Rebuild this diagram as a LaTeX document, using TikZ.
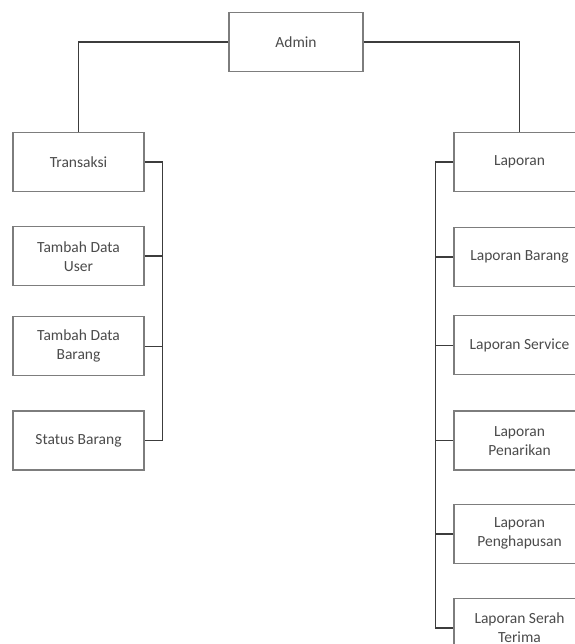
\documentclass[tikz,border=0pt]{standalone}
\usepackage{fontspec}
\setmainfont{Carlito}
\usetikzlibrary{positioning}
\definecolor{menuline}{RGB}{60,60,60}
\definecolor{menuedge}{RGB}{125,125,125}
\definecolor{menutext}{RGB}{75,75,75}

\begin{document}
\begin{tikzpicture}[x=1pt,y=1pt,font=\fontsize{15.5}{19}\selectfont,
    menubox/.style={draw=menuedge,line width=1.2pt,fill=white,text=menutext,minimum width=131pt,minimum height=59pt,align=center,inner sep=2pt},
    link/.style={draw=menuline,line width=1.6pt}]
        \useasboundingbox (0,0) rectangle (574,644);
        \node[menubox,minimum width=134pt] (admin) at (296,602) {Admin};
        % left branch
        \node[menubox] (trans) at (78.5,482) {Transaksi};
        \node[menubox,below=34pt of trans] (user) {Tambah Data\\User};
        \node[menubox,below=30pt of user] (brg) {Tambah Data\\Barang};
        \node[menubox,below=34pt of brg] (stat) {Status Barang};
        % right branch
        \node[menubox] (lap) at (519.5,482) {Laporan};
        \node[menubox,below=35pt of lap] (lbrg) {Laporan Barang};
        \node[menubox,below=28pt of lbrg] (lsvc) {Laporan Service};
        \node[menubox,below=35pt of lsvc] (ltarik) {Laporan\\Penarikan};
        \node[menubox,below=33pt of ltarik] (lhapus) {Laporan\\Penghapusan};
        \node[menubox,below=34pt of lhapus] (lserah) {Laporan Serah\\Terima};
        \draw[link] (admin.west) -| (trans.north);
        \draw[link] (admin.east) -| (lap.north);
        \coordinate (lbus) at ([xshift=18pt]trans.east);
        \coordinate (rbus) at ([xshift=-18pt]lap.west);
        \draw[link] (trans.east) -- (lbus) |- (stat.east);
        \draw[link] (user.east) -- (user.east -| lbus) (brg.east) -- (brg.east -| lbus);
        \draw[link] (lap.west) -- (rbus) |- (lserah.west);
        \draw[link] (lbrg.west) -- (lbrg.west -| rbus) (lsvc.west) -- (lsvc.west -| rbus)
            (ltarik.west) -- (ltarik.west -| rbus) (lhapus.west) -- (lhapus.west -| rbus);
      \end{tikzpicture}
\end{document}
